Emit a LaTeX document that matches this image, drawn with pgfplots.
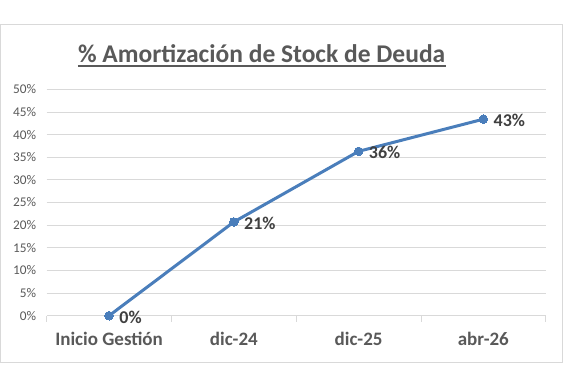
\documentclass[border=0pt]{standalone}
\usepackage{fontspec}
\setmainfont{Carlito}
\usepackage{pgfplots}
\pgfplotsset{compat=1.18}
\definecolor{txt}{HTML}{595959}
\definecolor{dtxt}{HTML}{404040}
\definecolor{grd}{HTML}{D9D9D9}
\definecolor{ln}{HTML}{4A7EBB}
\begin{document}
\begin{tikzpicture}[x=1pt,y=1pt]
\path[use as bounding box] (-46.7,-68.3) rectangle (529.3,315.7);
\draw[grd, line width=1pt] (-45.7,291.7) rectangle (515.3,-46.3);
\node[anchor=base, inner sep=0, text=txt, font=\fontsize{25.5}{28}\selectfont\bfseries] (t) at (215,253.4) {\% Amortización de Stock de Deuda};
\draw[txt, line width=1.6pt] ([yshift=-3.8pt]t.base west) -- ([yshift=-3.8pt]t.base east);
\begin{axis}[
  at={(0,0)}, anchor=south west,
  scale only axis, width=499pt, height=226.4pt,
  xmin=-0.5, xmax=3.5, ymin=0, ymax=50,
  axis line style={draw=none},
  xtick={0,1,2,3},
  xticklabels={Inicio Gestión, dic-24, dic-25, abr-26},
  minor xtick={-0.5,0.5,1.5,2.5,3.5},
  xtick pos=bottom, ytick pos=left,
  tick align=outside,
  major tick length=0pt, minor tick length=6pt,
  minor x tick style={draw=grd, line width=0.8pt},
  major tick style={draw=none},
  ytick={0,5,...,50},
  yticklabel={\pgfmathprintnumber{\tick}\%},
  ymajorgrids, grid style={draw=grd, line width=0.8pt},
  y tick label style={font=\fontsize{13.3}{15}\selectfont, text=txt, xshift=-7pt},
  x tick label style={font=\fontsize{19}{21}\selectfont\bfseries, text=txt, yshift=-13pt},
  /pgf/number format/assume math mode=true,
  nodes near coords={\pgfmathprintnumber[fixed,precision=0]{\pgfplotspointmeta}\%},
  every node near coord/.append style={anchor=west, xshift=7pt, yshift=-1.5pt, font=\fontsize{18}{20}\selectfont\bfseries, text=dtxt},
  clip=false,
]
\addplot[color=ln, line width=3pt, mark=*, mark size=4.3pt, mark options={fill=ln, draw=ln, line width=0pt}] coordinates {
  (0,0) (1,20.7) (2,36.3) (3,43.4)
};
\end{axis}
\end{tikzpicture}
\end{document}
